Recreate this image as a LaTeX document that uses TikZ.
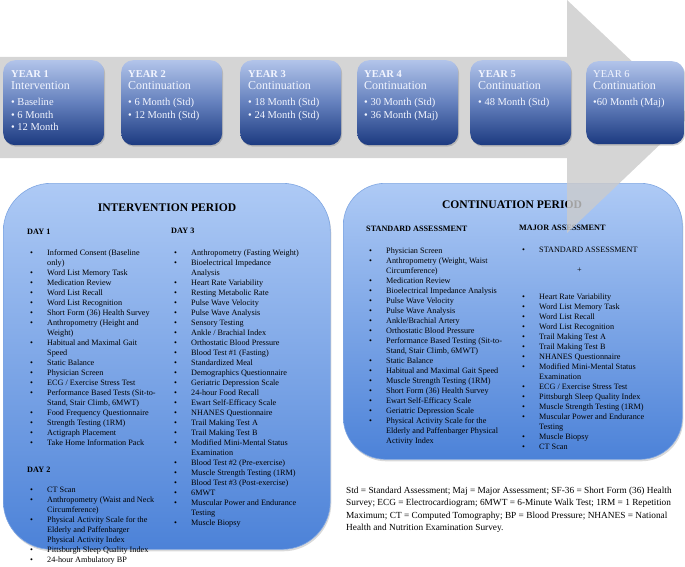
\documentclass[tikz,border=0pt]{standalone}
\usepackage{fontspec}
\setmainfont{Liberation Serif}
\usepackage{array}
\usepackage{xcolor}
\usetikzlibrary{shadows}

\definecolor{yeartop}{HTML}{B2C4EA}
\definecolor{yearmid}{HTML}{6480BD}
\definecolor{yearbottom}{HTML}{1C3A80}
\definecolor{paneltop}{HTML}{AECAF5}
\definecolor{panelbottom}{HTML}{4C82D8}
\definecolor{paneledge}{HTML}{7FA6E2}
\definecolor{arrowgray}{HTML}{CBCBCB}
\definecolor{yearink}{HTML}{F2F5FF}

\newcolumntype{B}{@{\hspace{3pt}}p{17pt}@{}l@{}}
\newcommand{\bitem}{\textbullet &}

\begin{document}
\begin{tikzpicture}[x=1pt, y=-1pt]
    % Define styles
    \tikzstyle{yearbox} = [rectangle, rounded corners=12pt, minimum width=101pt, minimum height=85pt, anchor=north west, top color=yeartop, bottom color=yearbottom, middle color=yearmid, drop shadow={opacity=0.35, shadow xshift=1pt, shadow yshift=-1.5pt}]
    \tikzstyle{yeartext} = [anchor=north west, align=left, inner sep=0pt, text=yearink, font=\fontsize{10.5}{12.5}\selectfont]
    \tikzstyle{panel} = [rectangle, anchor=north west, top color=paneltop, bottom color=panelbottom, draw=paneledge, line width=0.6pt, drop shadow={opacity=0.3, shadow xshift=1pt, shadow yshift=-2pt}]
    \tikzstyle{paneltitle} = [inner sep=0pt, font=\fontsize{11.6}{13}\selectfont\bfseries]
    \tikzstyle{itemlist} = [anchor=north west, inner sep=0pt, font=\fontsize{8.2}{10}\selectfont]
    \tikzstyle{abbrev} = [anchor=north west, align=left, inner sep=0pt, font=\fontsize{9.3}{12.3}\selectfont]
    \tikzstyle{bigarrow} = [fill=arrowgray, fill opacity=0.8]

    \useasboundingbox (0,0) rectangle (685,567);

    % Panels
    \node (intervention) [panel, rounded corners=48pt, minimum width=327pt, minimum height=366pt] at (3,183) {};
    \node (continuation) [panel, rounded corners=42pt, minimum width=339pt, minimum height=276pt] at (343,183) {};

    \node (ititle) [paneltitle] at (167,208) {INTERVENTION PERIOD};
    \node (ctitle) [paneltitle] at (512,205) {CONTINUATION PERIOD};

    % Intervention lists
    \node (day1) [itemlist] at (27,227) {\begin{tabular}{B}
        \multicolumn{2}{@{}l@{}}{\textbf{DAY 1}}\\[11pt]
        \bitem Informed Consent (Baseline\\
        & only)\\
        \bitem Word List Memory Task\\
        \bitem Medication Review\\
        \bitem Word List Recall\\
        \bitem Word List Recognition\\
        \bitem Short Form (36) Health Survey\\
        \bitem Anthropometry (Height and\\
        & Weight)\\
        \bitem Habitual and Maximal Gait\\
        & Speed\\
        \bitem Static Balance\\
        \bitem Physician Screen\\
        \bitem ECG / Exercise Stress Test\\
        \bitem Performance Based Tests (Sit-to-\\
        & Stand, Stair Climb, 6MWT)\\
        \bitem Food Frequency Questionnaire\\
        \bitem Strength Testing (1RM)\\
        \bitem Actigraph Placement\\
        \bitem Take Home Information Pack\\[17pt]
        \multicolumn{2}{@{}l@{}}{\textbf{DAY 2}}\\[10pt]
        \bitem CT Scan\\
        \bitem Anthropometry (Waist and Neck\\
        & Circumference)\\
        \bitem Physical Activity Scale for the\\
        & Elderly and Paffenbarger\\
        & Physical Activity Index\\
        \bitem Pittsburgh Sleep Quality Index\\
        \bitem 24-hour Ambulatory BP
    \end{tabular}};

    \node (day3) [itemlist] at (171,226) {\begin{tabular}{B}
        \multicolumn{2}{@{}l@{}}{\textbf{DAY 3}}\\[12pt]
        \bitem Anthropometry (Fasting Weight)\\
        \bitem Bioelectrical Impedance\\
        & Analysis\\
        \bitem Heart Rate Variability\\
        \bitem Resting Metabolic Rate\\
        \bitem Pulse Wave Velocity\\
        \bitem Pulse Wave Analysis\\
        \bitem Sensory Testing\\
        \bitem Ankle / Brachial Index\\
        \bitem Orthostatic Blood Pressure\\
        \bitem Blood Test \#1 (Fasting)\\
        \bitem Standardized Meal\\
        \bitem Demographics Questionnaire\\
        \bitem Geriatric Depression Scale\\
        \bitem 24-hour Food Recall\\
        \bitem Ewart Self-Efficacy Scale\\
        \bitem NHANES Questionnaire\\
        \bitem Trail Making Test A\\
        \bitem Trail Making Test B\\
        \bitem Modified Mini-Mental Status\\
        & Examination\\
        \bitem Blood Test \#2 (Pre-exercise)\\
        \bitem Muscle Strength Testing (1RM)\\
        \bitem Blood Test \#3 (Post-exercise)\\
        \bitem 6MWT\\
        \bitem Muscular Power and Endurance\\
        & Testing\\
        \bitem Muscle Biopsy
    \end{tabular}};

    % Continuation lists
    \node (standard) [itemlist] at (366,224) {\begin{tabular}{B}
        \multicolumn{2}{@{}l@{}}{\textbf{STANDARD ASSESSMENT}}\\[12pt]
        \bitem Physician Screen\\
        \bitem Anthropometry (Weight, Waist\\
        & Circumference)\\
        \bitem Medication Review\\
        \bitem Bioelectrical Impedance Analysis\\
        \bitem Pulse Wave Velocity\\
        \bitem Pulse Wave Analysis\\
        \bitem Ankle/Brachial Artery\\
        \bitem Orthostatic Blood Pressure\\
        \bitem Performance Based Testing (Sit-to-\\
        & Stand, Stair Climb, 6MWT)\\
        \bitem Static Balance\\
        \bitem Habitual and Maximal Gait Speed\\
        \bitem Muscle Strength Testing (1RM)\\
        \bitem Short Form (36) Health Survey\\
        \bitem Ewart Self-Efficacy Scale\\
        \bitem Geriatric Depression Scale\\
        \bitem Physical Activity Scale for the\\
        & Elderly and Paffenbarger Physical\\
        & Activity Index
    \end{tabular}};

    \node (major) [itemlist] at (519,223) {\begin{tabular}{B}
        \multicolumn{2}{@{}l@{}}{\textbf{MAJOR ASSESSMENT}}\\[12pt]
        \bitem STANDARD ASSESSMENT\\[10pt]
        \multicolumn{2}{@{}l@{}}{\hspace{58pt}+}\\[17pt]
        \bitem Heart Rate Variability\\
        \bitem Word List Memory Task\\
        \bitem Word List Recall\\
        \bitem Word List Recognition\\
        \bitem Trail Making Test A\\
        \bitem Trail Making Test B\\
        \bitem NHANES Questionnaire\\
        \bitem Modified Mini-Mental Status\\
        & Examination\\
        \bitem ECG / Exercise Stress Test\\
        \bitem Pittsburgh Sleep Quality Index\\
        \bitem Muscle Strength Testing (1RM)\\
        \bitem Muscular Power and Endurance\\
        & Testing\\
        \bitem Muscle Biopsy\\
        \bitem CT Scan
    \end{tabular}};

    \node (legend) [abbrev] at (346,487) {Std = Standard Assessment; Maj = Major Assessment; SF-36 = Short Form (36) Health\\
        Survey; ECG = Electrocardiogram; 6MWT = 6-Minute Walk Test; 1RM = 1 Repetition\\
        Maximum; CT = Computed Tomography; BP = Blood Pressure; NHANES = National\\
        Health and Nutrition Examination Survey.};

    % Timeline arrow
    \fill [bigarrow] (0,57) -- (567,57) -- (567,0) -- (690,116) -- (567,233) -- (567,158) -- (0,158) -- cycle;

    % Year boxes
    \node (year1) [yearbox] at (3,60) {};
    \node (year2) [yearbox] at (121,60) {};
    \node (year3) [yearbox] at (240,60) {};
    \node (year4) [yearbox] at (357,60) {};
    \node (year5) [yearbox] at (470,60) {};
    \node (year6) [yearbox, minimum width=98pt, minimum height=83pt] at (586,61) {};

    \node (y1text) [yeartext] at ([shift={(8,10)}]year1.north west) {\textbf{YEAR 1}\\ {\fontsize{12}{12}\selectfont Intervention}\\[3.5pt] \textbullet\ Baseline\\ \textbullet\ 6 Month\\ \textbullet\ 12 Month};
    \node (y2text) [yeartext] at ([shift={(7,10)}]year2.north west) {\textbf{YEAR 2}\\ {\fontsize{12}{12}\selectfont Continuation}\\[3.5pt] \textbullet\ 6 Month (Std)\\ \textbullet\ 12 Month (Std)};
    \node (y3text) [yeartext] at ([shift={(8,10)}]year3.north west) {\textbf{YEAR 3}\\ {\fontsize{12}{12}\selectfont Continuation}\\[3.5pt] \textbullet\ 18 Month (Std)\\ \textbullet\ 24 Month (Std)};
    \node (y4text) [yeartext] at ([shift={(7,10)}]year4.north west) {\textbf{YEAR 4}\\ {\fontsize{12}{12}\selectfont Continuation}\\[3.5pt] \textbullet\ 30 Month (Std)\\ \textbullet\ 36 Month (Maj)};
    \node (y5text) [yeartext] at ([shift={(8,10)}]year5.north west) {\textbf{YEAR 5}\\ {\fontsize{12}{12}\selectfont Continuation}\\[3.5pt] \textbullet\ 48 Month (Std)};
    \node (y6text) [yeartext] at ([shift={(7,9)}]year6.north west) {YEAR 6\\ {\fontsize{12}{12}\selectfont Continuation}\\[3.5pt] \textbullet 60 Month (Maj)};
\end{tikzpicture}
\end{document}
